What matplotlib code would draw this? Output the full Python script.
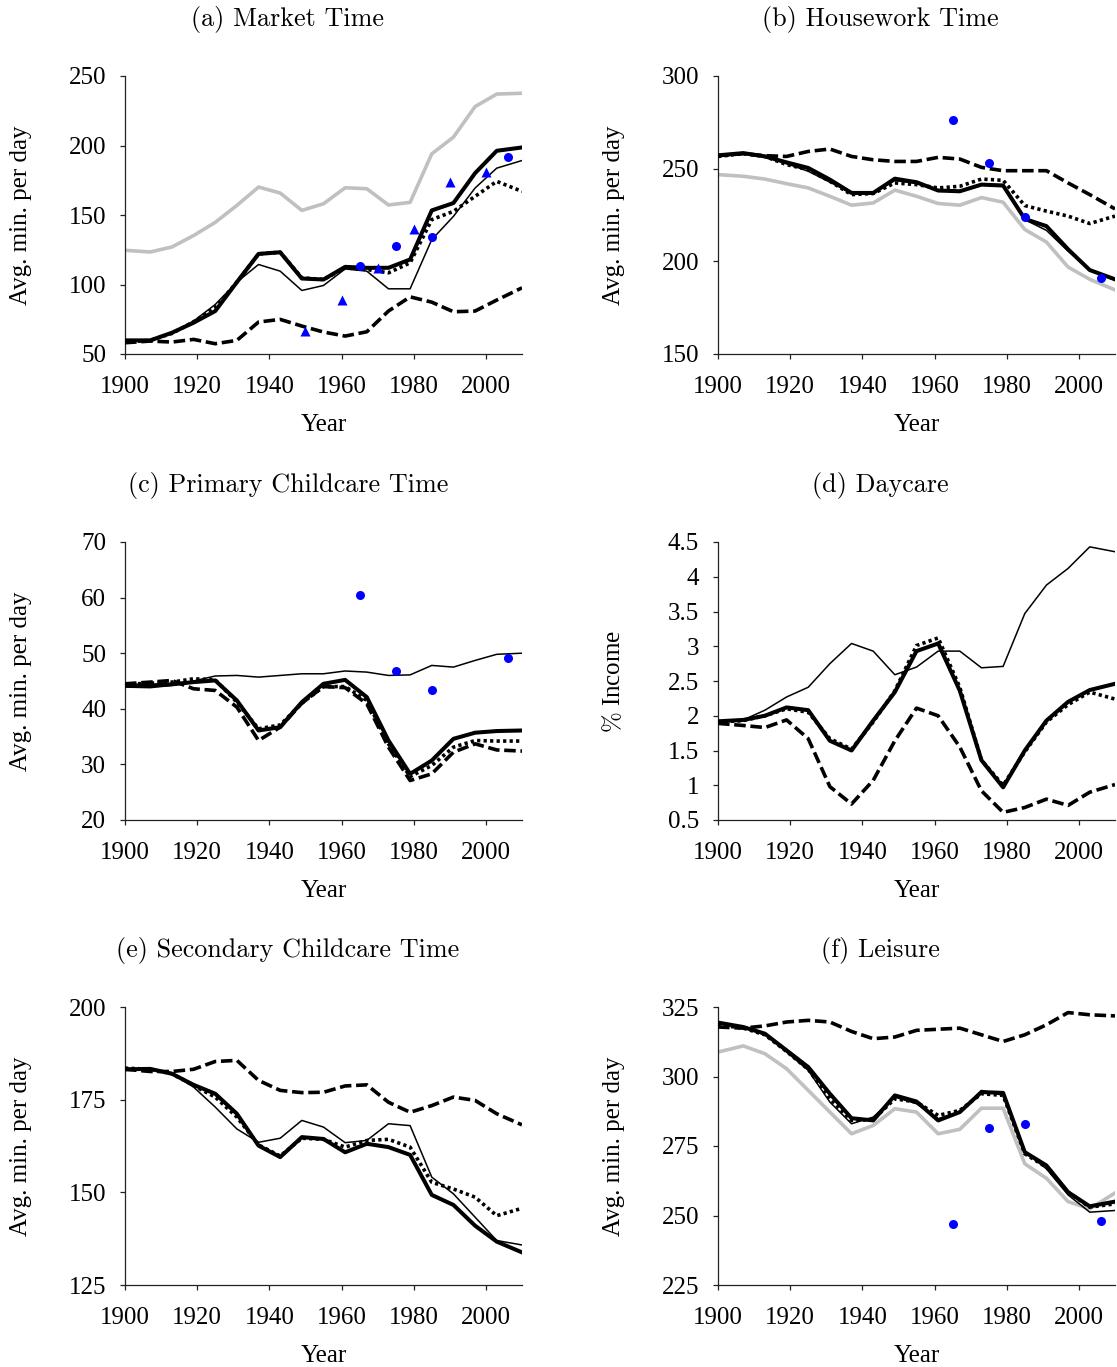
import numpy as np
import matplotlib
matplotlib.use("Agg")
import matplotlib.pyplot as plt

plt.rcParams["font.family"] = ["Liberation Serif", "DejaVu Serif"]
plt.rcParams["mathtext.fontset"] = "cm"

# model years (one point per cohort)
years = [1900, 1907, 1913, 1919, 1925, 1931, 1937, 1943, 1949, 1955,
         1961, 1967, 1973, 1979, 1985, 1991, 1997, 2003, 2010]

# survey data years
survey_years = [1965, 1975, 1985, 2006]
census_years = [1950, 1960, 1970, 1980, 1990, 2000]

# (a) Market time
market_gray = [124.6, 123.4, 127.0, 135.2, 144.7, 156.9, 170.1, 165.8, 153.3, 158.1,
               169.6, 168.9, 157.2, 159.1, 194.0, 206.0, 228.0, 237.0, 237.6]
market_thick = [59.8, 59.8, 65.3, 72.5, 80.9, 101.7, 122.0, 123.2, 104.3, 103.6,
                112.7, 112.0, 112.0, 118.0, 153.3, 158.6, 180.1, 196.2, 198.6]
market_thin = [59.8, 59.8, 65.3, 73.7, 85.6, 101.7, 114.4, 109.6, 95.7, 99.3,
               111.2, 109.6, 96.9, 96.9, 132.3, 149.0, 169.4, 183.7, 189.2]
market_dot = [58.6, 59.8, 64.8, 73.2, 83.3, 101.7, 122.0, 123.2, 104.8, 103.6,
              112.0, 110.8, 108.4, 115.6, 146.7, 152.6, 163.4, 174.2, 167.0]
market_dash = [58.1, 59.3, 58.6, 60.5, 57.4, 59.8, 73.0, 74.9, 70.1, 65.8,
               62.9, 66.0, 80.9, 91.1, 87.3, 80.4, 80.9, 88.8, 97.6]
market_survey = [113.6, 127.5, 134.0, 191.4]
market_census = [66.5, 89.0, 112.0, 140.0, 173.7, 181.0]

# (b) Housework time
house_gray = [246.8, 245.9, 244.4, 241.9, 239.6, 235.1, 230.3, 231.5, 238.4, 235.1,
              231.2, 230.3, 234.4, 231.9, 217.2, 210.4, 196.9, 190.3, 184.6]
house_thick = [257.2, 258.4, 256.6, 253.4, 250.4, 244.1, 236.9, 236.9, 244.6, 242.7,
               238.2, 237.8, 241.4, 240.9, 222.9, 219.0, 206.5, 195.3, 190.3]
house_thin = [257.2, 258.4, 256.6, 252.7, 248.6, 242.7, 236.9, 236.9, 243.6, 242.0,
              238.2, 238.2, 241.4, 241.4, 222.5, 216.7, 205.5, 195.3, 189.8]
house_dot = [256.6, 258.1, 256.6, 252.2, 249.5, 243.2, 236.0, 236.6, 242.3, 241.4,
             239.6, 240.5, 244.4, 243.7, 230.1, 227.1, 224.4, 220.4, 224.4]
house_dash = [257.0, 258.1, 257.0, 256.6, 259.3, 260.6, 256.6, 254.8, 253.9, 253.9,
              256.1, 255.2, 250.7, 248.9, 248.9, 248.9, 242.3, 236.0, 228.3]
house_survey = [276.5, 252.9, 223.8, 191.2]

# (c) Primary childcare time
child_thin = [43.9, 43.8, 44.2, 45.0, 45.9, 46.0, 45.7, 46.0, 46.3, 46.3,
              46.8, 46.6, 46.0, 46.1, 47.8, 47.5, 48.7, 49.8, 50.0]
child_thick = [44.2, 44.2, 44.4, 44.8, 45.1, 41.5, 36.1, 36.7, 41.2, 44.5,
               45.2, 42.1, 34.3, 28.3, 30.7, 34.6, 35.7, 36.0, 36.1]
child_dot = [44.4, 44.6, 44.8, 45.4, 45.2, 41.2, 36.4, 37.1, 41.0, 44.0,
             44.0, 41.5, 33.7, 27.8, 29.8, 33.1, 34.3, 34.2, 34.2]
child_dash = [44.5, 44.8, 45.1, 43.6, 43.3, 40.3, 34.3, 36.7, 41.0, 44.0,
              43.8, 40.9, 33.1, 27.1, 28.3, 32.2, 33.7, 32.6, 32.4]
child_survey = [60.4, 46.8, 43.3, 49.1]

# (d) Daycare, % of income
care_thin = [1.91, 1.94, 2.08, 2.27, 2.41, 2.75, 3.04, 2.93, 2.59, 2.70,
             2.93, 2.93, 2.69, 2.71, 3.47, 3.88, 4.12, 4.43, 4.36]
care_thick = [1.92, 1.94, 2.00, 2.12, 2.08, 1.64, 1.50, 1.93, 2.34, 2.93,
              3.04, 2.36, 1.36, 0.97, 1.50, 1.93, 2.20, 2.37, 2.46]
care_dot = [1.91, 1.93, 2.00, 2.10, 2.05, 1.67, 1.52, 1.91, 2.36, 3.01,
            3.12, 2.41, 1.36, 1.00, 1.48, 1.91, 2.16, 2.34, 2.24]
care_dash = [1.89, 1.86, 1.83, 1.94, 1.67, 0.98, 0.73, 1.07, 1.64, 2.11,
             2.00, 1.55, 0.92, 0.61, 0.68, 0.80, 0.71, 0.90, 1.01]

# (e) Secondary childcare time
sec_dash = [183.2, 182.6, 182.6, 183.2, 185.3, 185.6, 180.2, 177.5, 176.9, 177.0,
            178.7, 179.0, 174.3, 171.6, 173.4, 175.7, 174.8, 171.2, 168.2]
sec_thick = [183.2, 183.3, 182.0, 179.0, 176.6, 171.2, 162.6, 159.5, 164.9, 164.4,
             160.8, 163.1, 162.2, 160.1, 149.3, 146.6, 141.0, 136.7, 133.8]
sec_thin = [183.2, 183.3, 182.0, 178.4, 173.0, 167.1, 163.5, 164.6, 169.4, 167.6,
            163.4, 164.0, 168.5, 168.0, 154.1, 149.6, 143.3, 137.0, 135.8]
sec_dot = [183.5, 183.2, 182.0, 178.8, 175.7, 170.3, 162.8, 159.8, 164.6, 164.3,
           162.2, 164.0, 164.3, 162.2, 152.7, 150.9, 148.7, 143.7, 145.7]

# (f) Leisure
leis_gray = [308.8, 311.0, 308.2, 302.8, 295.0, 287.2, 279.4, 282.4, 288.4, 287.2,
             279.4, 281.0, 288.6, 288.6, 268.6, 263.4, 255.0, 252.4, 258.1]
leis_thick = [319.4, 317.8, 315.4, 309.4, 303.4, 293.8, 285.0, 284.2, 293.2, 291.0,
              284.2, 287.2, 294.4, 294.1, 272.8, 268.0, 258.4, 253.3, 255.0]
leis_thin = [319.0, 317.6, 315.0, 308.8, 302.2, 290.8, 283.0, 285.4, 292.6, 290.2,
             284.8, 287.2, 295.0, 293.2, 272.8, 266.8, 257.4, 251.2, 251.8]
leis_dot = [318.6, 317.4, 315.0, 309.0, 302.6, 292.0, 284.2, 284.5, 292.0, 290.8,
            286.0, 287.8, 293.8, 293.2, 272.2, 267.4, 258.4, 253.0, 254.2]
leis_dash = [317.8, 317.4, 318.2, 319.6, 320.2, 319.6, 316.2, 313.6, 314.2, 316.6,
             317.0, 317.4, 315.0, 312.6, 315.0, 318.6, 323.0, 322.2, 321.8]
leis_survey = [247.0, 281.4, 283.0, 247.9]

titles = ["(a) Market Time", "(b) Housework Time", "(c) Primary Childcare Time",
          "(d) Daycare", "(e) Secondary Childcare Time", "(f) Leisure"]
ylabels = ["Avg. min. per day", "Avg. min. per day", "Avg. min. per day",
           r"$\%$ Income", "Avg. min. per day", "Avg. min. per day"]
yticks = [[50, 100, 150, 200, 250], [150, 200, 250, 300], [20, 30, 40, 50, 60, 70],
          [0.5, 1, 1.5, 2, 2.5, 3, 3.5, 4, 4.5], [125, 150, 175, 200], [225, 250, 275, 300, 325]]
ytick_labels = [["50", "100", "150", "200", "250"], ["150", "200", "250", "300"],
                ["20", "30", "40", "50", "60", "70"],
                ["0.5", "1", "1.5", "2", "2.5", "3", "3.5", "4", "4.5"],
                ["125", "150", "175", "200"], ["225", "250", "275", "300", "325"]]
xticks = [1900, 1920, 1940, 1960, 1980, 2000]

panels = [
    dict(gray=market_gray, dash=market_dash, thin=market_thin, dot=market_dot,
         thick=market_thick, survey=market_survey, census=market_census),
    dict(gray=house_gray, dash=house_dash, thin=house_thin, dot=house_dot,
         thick=house_thick, survey=house_survey),
    dict(dash=child_dash, thin=child_thin, dot=child_dot, thick=child_thick,
         survey=child_survey),
    dict(dash=care_dash, thin=care_thin, dot=care_dot, thick=care_thick),
    dict(dash=sec_dash, thin=sec_thin, dot=sec_dot, thick=sec_thick),
    dict(gray=leis_gray, dash=leis_dash, thin=leis_thin, dot=leis_dot,
         thick=leis_thick, survey=leis_survey),
]

fig = plt.figure(figsize=(11.17, 13.67), dpi=100)
W, H = 1117.0, 1367.0
lefts = [125, 718]
tops = [76, 542, 1007]
aw, ah = 397, 278

for i, p in enumerate(panels):
    r, c = divmod(i, 2)
    ax = fig.add_axes([lefts[c] / W, 1 - (tops[r] + ah) / H, aw / W, ah / H])

    if "gray" in p:
        ax.plot(years, p["gray"], color="#c0c0c0", lw=2.6, zorder=2)
    ax.plot(years, p["dash"], color="black", lw=2.6, dashes=(3.2, 1.3), zorder=3)
    ax.plot(years, p["thin"], color="black", lw=1.1, zorder=4)
    ax.plot(years, p["dot"], color="black", lw=2.6, dashes=(0.9, 0.9), zorder=5)
    ax.plot(years, p["thick"], color="black", lw=2.9, zorder=6)
    if "survey" in p:
        ax.plot(survey_years, p["survey"], "o", color="#0000ff", ms=6.5,
                mec="none", zorder=7, clip_on=False)
    if "census" in p:
        ax.plot(census_years, p["census"], "^", color="#0000ff", ms=7,
                mec="none", zorder=7, clip_on=False)

    ax.set_xlim(1900, 2010)
    ax.set_ylim(yticks[i][0], yticks[i][-1])
    ax.set_xticks(xticks)
    ax.set_yticks(yticks[i])
    ax.set_yticklabels(ytick_labels[i])
    for s in ["top", "right"]:
        ax.spines[s].set_visible(False)
    for s in ["left", "bottom"]:
        ax.spines[s].set_linewidth(0.9)
        ax.spines[s].set_color("#222222")
    ax.tick_params(axis="both", direction="out", length=3.5, width=0.9,
                   labelsize=18, color="#222222")
    ax.tick_params(axis="y", pad=10)
    ax.tick_params(axis="x", pad=12)

    ax.set_xlabel("Year", fontsize=18)
    ax.xaxis.set_label_coords(0.5, -0.215)
    ax.set_ylabel(ylabels[i], fontsize=18)
    ax.yaxis.set_label_coords(-0.235, 0.5)

    ax.set_title(titles[i], fontsize=18.8, family="cmr10", x=0.41, pad=36)

fig.savefig("out.png", dpi=100)
